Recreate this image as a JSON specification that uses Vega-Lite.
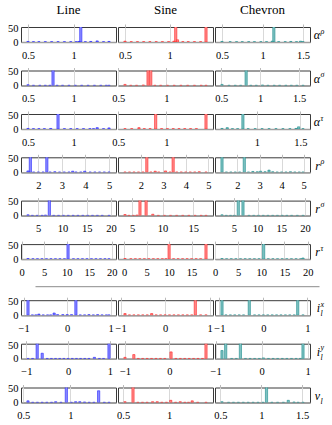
{
"$schema":"https://vega.github.io/schema/vega-lite/v6.json",
"padding":{"left":7,"top":4,"right":1,"bottom":1},
"config":{"view":{"stroke":"#3a3a3a","strokeWidth":1},"font":"Liberation Serif, DejaVu Serif, serif"},
"spacing":5.3,
"datasets":{"d":[
{"p":"ar","m":"C","t":"L","b":"α","s":"ρ"},
{"p":"as","m":"C","t":"L","b":"α","s":"σ"},
{"p":"at","m":"C","t":"L","b":"α","s":"τ"},
{"p":"rr","m":"C","t":"L","b":"r","s":"ρ"},
{"p":"rs","m":"C","t":"L","b":"r","s":"σ"},
{"p":"rt","m":"C","t":"L","b":"r","s":"τ"},
{"p":"ix","m":"C","t":"L","b":"i","s":"x","u":"l"},
{"p":"iy","m":"C","t":"L","b":"i","s":"y","u":"l"},
{"p":"vl","m":"C","t":"L","b":"v","u":"l"},
{"p":"ar","m":"L","v":1.08,"n":60},{"p":"ar","m":"L","v":0.5,"n":2},{"p":"ar","m":"L","v":0.56,"n":1},{"p":"ar","m":"L","v":0.62,"n":1},{"p":"ar","m":"L","v":0.69,"n":1},{"p":"ar","m":"L","v":0.76,"n":1},{"p":"ar","m":"L","v":0.83,"n":1},{"p":"ar","m":"L","v":0.9,"n":1},{"p":"ar","m":"L","v":0.97,"n":1},{"p":"ar","m":"L","v":1.03,"n":1},{"p":"ar","m":"L","v":1.06,"n":2},{"p":"ar","m":"L","v":1.13,"n":1},{"p":"ar","m":"L","v":1.19,"n":2},{"p":"ar","m":"L","v":1.26,"n":4},{"p":"ar","m":"L","v":1.33,"n":1},{"p":"ar","m":"L","v":1.39,"n":2},
{"p":"ar","m":"S","v":1.07,"n":60},{"p":"ar","m":"S","v":1.41,"n":60},{"p":"ar","m":"S","v":0.5,"n":3},{"p":"ar","m":"S","v":0.57,"n":1},{"p":"ar","m":"S","v":0.64,"n":1},{"p":"ar","m":"S","v":0.71,"n":1},{"p":"ar","m":"S","v":0.78,"n":1},{"p":"ar","m":"S","v":0.85,"n":1},{"p":"ar","m":"S","v":0.92,"n":1},{"p":"ar","m":"S","v":0.99,"n":1},{"p":"ar","m":"S","v":1.05,"n":3},{"p":"ar","m":"S","v":1.09,"n":8},{"p":"ar","m":"S","v":1.15,"n":1},{"p":"ar","m":"S","v":1.21,"n":1},{"p":"ar","m":"S","v":1.28,"n":1},{"p":"ar","m":"S","v":1.35,"n":1},
{"p":"ar","m":"C","v":1.14,"n":60},{"p":"ar","m":"C","v":0.5,"n":2},{"p":"ar","m":"C","v":0.6,"n":1},{"p":"ar","m":"C","v":0.68,"n":1},{"p":"ar","m":"C","v":0.75,"n":1},{"p":"ar","m":"C","v":0.83,"n":1},{"p":"ar","m":"C","v":0.9,"n":1},{"p":"ar","m":"C","v":0.98,"n":1},{"p":"ar","m":"C","v":1.05,"n":1},{"p":"ar","m":"C","v":1.12,"n":3},{"p":"ar","m":"C","v":1.2,"n":1},{"p":"ar","m":"C","v":1.28,"n":1},{"p":"ar","m":"C","v":1.35,"n":2},{"p":"ar","m":"C","v":1.42,"n":1},{"p":"ar","m":"C","v":1.47,"n":3},{"p":"ar","m":"C","v":1.5,"n":1},
{"p":"as","m":"L","v":0.775,"n":60},{"p":"as","m":"L","v":0.5,"n":3},{"p":"as","m":"L","v":0.56,"n":1},{"p":"as","m":"L","v":0.63,"n":1},{"p":"as","m":"L","v":0.69,"n":1},{"p":"as","m":"L","v":0.74,"n":1},{"p":"as","m":"L","v":0.82,"n":1},{"p":"as","m":"L","v":0.88,"n":1},{"p":"as","m":"L","v":0.95,"n":1},{"p":"as","m":"L","v":1.02,"n":1},{"p":"as","m":"L","v":1.09,"n":1},{"p":"as","m":"L","v":1.16,"n":1},{"p":"as","m":"L","v":1.23,"n":1},{"p":"as","m":"L","v":1.3,"n":1},{"p":"as","m":"L","v":1.36,"n":1},{"p":"as","m":"L","v":1.39,"n":1},
{"p":"as","m":"S","v":0.809,"n":60},{"p":"as","m":"S","v":0.837,"n":60},{"p":"as","m":"S","v":0.57,"n":4},{"p":"as","m":"S","v":0.63,"n":1},{"p":"as","m":"S","v":0.69,"n":1},{"p":"as","m":"S","v":0.76,"n":2},{"p":"as","m":"S","v":0.88,"n":1},{"p":"as","m":"S","v":0.94,"n":1},{"p":"as","m":"S","v":1.01,"n":1},{"p":"as","m":"S","v":1.08,"n":1},{"p":"as","m":"S","v":1.15,"n":1},{"p":"as","m":"S","v":1.22,"n":1},{"p":"as","m":"S","v":1.29,"n":1},{"p":"as","m":"S","v":1.36,"n":1},{"p":"as","m":"S","v":1.41,"n":1},
{"p":"as","m":"C","v":0.82,"n":60},{"p":"as","m":"C","v":0.51,"n":4},{"p":"as","m":"C","v":0.6,"n":1},{"p":"as","m":"C","v":0.68,"n":1},{"p":"as","m":"C","v":0.75,"n":1},{"p":"as","m":"C","v":0.88,"n":1},{"p":"as","m":"C","v":0.95,"n":1},{"p":"as","m":"C","v":1.03,"n":2},{"p":"as","m":"C","v":1.1,"n":1},{"p":"as","m":"C","v":1.18,"n":1},{"p":"as","m":"C","v":1.25,"n":1},{"p":"as","m":"C","v":1.33,"n":1},{"p":"as","m":"C","v":1.4,"n":1},{"p":"as","m":"C","v":1.47,"n":1},{"p":"as","m":"C","v":1.55,"n":1},
{"p":"at","m":"L","v":0.83,"n":60},{"p":"at","m":"L","v":0.5,"n":2},{"p":"at","m":"L","v":0.56,"n":1},{"p":"at","m":"L","v":0.62,"n":1},{"p":"at","m":"L","v":0.68,"n":1},{"p":"at","m":"L","v":0.75,"n":2},{"p":"at","m":"L","v":0.9,"n":1},{"p":"at","m":"L","v":0.97,"n":1},{"p":"at","m":"L","v":1.04,"n":1},{"p":"at","m":"L","v":1.11,"n":1},{"p":"at","m":"L","v":1.18,"n":1},{"p":"at","m":"L","v":1.22,"n":1},{"p":"at","m":"L","v":1.26,"n":5},{"p":"at","m":"L","v":1.33,"n":1},{"p":"at","m":"L","v":1.39,"n":4},
{"p":"at","m":"S","v":0.888,"n":60},{"p":"at","m":"S","v":1.41,"n":60},{"p":"at","m":"S","v":0.57,"n":1},{"p":"at","m":"S","v":0.64,"n":1},{"p":"at","m":"S","v":0.715,"n":5},{"p":"at","m":"S","v":0.77,"n":1},{"p":"at","m":"S","v":0.83,"n":1},{"p":"at","m":"S","v":0.95,"n":1},{"p":"at","m":"S","v":1.01,"n":1},{"p":"at","m":"S","v":1.07,"n":1},{"p":"at","m":"S","v":1.13,"n":1},{"p":"at","m":"S","v":1.19,"n":1},{"p":"at","m":"S","v":1.25,"n":1},{"p":"at","m":"S","v":1.31,"n":1},
{"p":"at","m":"C","v":0.84,"n":60},{"p":"at","m":"C","v":0.6,"n":2},{"p":"at","m":"C","v":0.66,"n":5},{"p":"at","m":"C","v":0.72,"n":1},{"p":"at","m":"C","v":0.78,"n":1},{"p":"at","m":"C","v":0.9,"n":1},{"p":"at","m":"C","v":0.98,"n":1},{"p":"at","m":"C","v":1.06,"n":1},{"p":"at","m":"C","v":1.14,"n":1},{"p":"at","m":"C","v":1.22,"n":1},{"p":"at","m":"C","v":1.3,"n":1},{"p":"at","m":"C","v":1.38,"n":1},{"p":"at","m":"C","v":1.45,"n":2},{"p":"at","m":"C","v":1.48,"n":8},{"p":"at","m":"C","v":1.53,"n":1},
{"p":"rr","m":"L","v":1.66,"n":60},{"p":"rr","m":"L","v":2.36,"n":60},{"p":"rr","m":"L","v":1.56,"n":5},{"p":"rr","m":"L","v":1.8,"n":1},{"p":"rr","m":"L","v":2.0,"n":1},{"p":"rr","m":"L","v":2.2,"n":1},{"p":"rr","m":"L","v":2.5,"n":1},{"p":"rr","m":"L","v":2.7,"n":2},{"p":"rr","m":"L","v":2.9,"n":1},{"p":"rr","m":"L","v":3.1,"n":1},{"p":"rr","m":"L","v":3.3,"n":1},{"p":"rr","m":"L","v":3.46,"n":4},{"p":"rr","m":"L","v":3.6,"n":1},{"p":"rr","m":"L","v":3.8,"n":1},{"p":"rr","m":"L","v":3.97,"n":4},{"p":"rr","m":"L","v":4.2,"n":1},{"p":"rr","m":"L","v":4.4,"n":1},{"p":"rr","m":"L","v":4.6,"n":1},{"p":"rr","m":"L","v":4.8,"n":1},{"p":"rr","m":"L","v":5.0,"n":1},
{"p":"rr","m":"S","v":2.27,"n":60},{"p":"rr","m":"S","v":3.44,"n":60},{"p":"rr","m":"S","v":1.3,"n":1},{"p":"rr","m":"S","v":1.5,"n":1},{"p":"rr","m":"S","v":1.7,"n":1},{"p":"rr","m":"S","v":1.9,"n":1},{"p":"rr","m":"S","v":2.1,"n":1},{"p":"rr","m":"S","v":2.45,"n":1},{"p":"rr","m":"S","v":2.64,"n":4},{"p":"rr","m":"S","v":2.8,"n":1},{"p":"rr","m":"S","v":3.1,"n":5},{"p":"rr","m":"S","v":3.3,"n":1},{"p":"rr","m":"S","v":3.6,"n":1},{"p":"rr","m":"S","v":3.8,"n":1},{"p":"rr","m":"S","v":4.0,"n":1},{"p":"rr","m":"S","v":4.2,"n":1},{"p":"rr","m":"S","v":4.4,"n":1},{"p":"rr","m":"S","v":4.6,"n":2},{"p":"rr","m":"S","v":4.9,"n":1},
{"p":"rr","m":"C","v":1.3,"n":60},{"p":"rr","m":"C","v":2.31,"n":60},{"p":"rr","m":"C","v":1.5,"n":1},{"p":"rr","m":"C","v":1.7,"n":1},{"p":"rr","m":"C","v":1.9,"n":1},{"p":"rr","m":"C","v":2.1,"n":1},{"p":"rr","m":"C","v":2.5,"n":1},{"p":"rr","m":"C","v":2.7,"n":3},{"p":"rr","m":"C","v":2.9,"n":2},{"p":"rr","m":"C","v":3.05,"n":4},{"p":"rr","m":"C","v":3.25,"n":2},{"p":"rr","m":"C","v":3.43,"n":8},{"p":"rr","m":"C","v":3.6,"n":2},{"p":"rr","m":"C","v":3.8,"n":1},{"p":"rr","m":"C","v":4.0,"n":1},{"p":"rr","m":"C","v":4.2,"n":1},{"p":"rr","m":"C","v":4.4,"n":2},{"p":"rr","m":"C","v":4.6,"n":1},{"p":"rr","m":"C","v":4.8,"n":1},{"p":"rr","m":"C","v":4.97,"n":1},
{"p":"rs","m":"L","v":7.3,"n":60},{"p":"rs","m":"L","v":2.9,"n":3},{"p":"rs","m":"L","v":3.8,"n":1},{"p":"rs","m":"L","v":4.8,"n":1},{"p":"rs","m":"L","v":5.8,"n":1},{"p":"rs","m":"L","v":6.5,"n":2},{"p":"rs","m":"L","v":8.2,"n":1},{"p":"rs","m":"L","v":9.2,"n":1},{"p":"rs","m":"L","v":10.2,"n":1},{"p":"rs","m":"L","v":11.2,"n":1},{"p":"rs","m":"L","v":12.2,"n":1},{"p":"rs","m":"L","v":13.2,"n":1},{"p":"rs","m":"L","v":14.2,"n":1},{"p":"rs","m":"L","v":15.2,"n":1},{"p":"rs","m":"L","v":16.2,"n":1},{"p":"rs","m":"L","v":17.2,"n":1},{"p":"rs","m":"L","v":18.2,"n":1},{"p":"rs","m":"L","v":19.6,"n":1},
{"p":"rs","m":"S","v":6.3,"n":60},{"p":"rs","m":"S","v":7.3,"n":60},{"p":"rs","m":"S","v":3.85,"n":4},{"p":"rs","m":"S","v":4.5,"n":1},{"p":"rs","m":"S","v":5.2,"n":1},{"p":"rs","m":"S","v":5.8,"n":2},{"p":"rs","m":"S","v":8.4,"n":5},{"p":"rs","m":"S","v":9.3,"n":1},{"p":"rs","m":"S","v":10.3,"n":1},{"p":"rs","m":"S","v":11.3,"n":1},{"p":"rs","m":"S","v":12.3,"n":1},{"p":"rs","m":"S","v":13.3,"n":1},{"p":"rs","m":"S","v":14.3,"n":1},{"p":"rs","m":"S","v":15.3,"n":1},{"p":"rs","m":"S","v":16.3,"n":1},{"p":"rs","m":"S","v":17.1,"n":1},
{"p":"rs","m":"C","v":5.94,"n":60},{"p":"rs","m":"C","v":6.93,"n":60},{"p":"rs","m":"C","v":2.5,"n":3},{"p":"rs","m":"C","v":3.4,"n":1},{"p":"rs","m":"C","v":4.3,"n":1},{"p":"rs","m":"C","v":5.1,"n":1},{"p":"rs","m":"C","v":8.2,"n":1},{"p":"rs","m":"C","v":9.2,"n":1},{"p":"rs","m":"C","v":10.2,"n":1},{"p":"rs","m":"C","v":11.2,"n":1},{"p":"rs","m":"C","v":12.2,"n":1},{"p":"rs","m":"C","v":13.2,"n":1},{"p":"rs","m":"C","v":14.2,"n":1},{"p":"rs","m":"C","v":15.2,"n":1},{"p":"rs","m":"C","v":16.2,"n":1},{"p":"rs","m":"C","v":17.2,"n":1},{"p":"rs","m":"C","v":18.4,"n":1},{"p":"rs","m":"C","v":19.6,"n":1},
{"p":"rt","m":"L","v":10.3,"n":60},{"p":"rt","m":"L","v":1.4,"n":2},{"p":"rt","m":"L","v":2.5,"n":1},{"p":"rt","m":"L","v":3.5,"n":1},{"p":"rt","m":"L","v":4.5,"n":1},{"p":"rt","m":"L","v":5.5,"n":1},{"p":"rt","m":"L","v":6.5,"n":1},{"p":"rt","m":"L","v":7.5,"n":1},{"p":"rt","m":"L","v":8.5,"n":1},{"p":"rt","m":"L","v":9.5,"n":1},{"p":"rt","m":"L","v":11.5,"n":1},{"p":"rt","m":"L","v":12.5,"n":1},{"p":"rt","m":"L","v":13.5,"n":1},{"p":"rt","m":"L","v":14.5,"n":1},{"p":"rt","m":"L","v":15.5,"n":1},{"p":"rt","m":"L","v":16.5,"n":1},{"p":"rt","m":"L","v":17.5,"n":1},{"p":"rt","m":"L","v":18.5,"n":1},{"p":"rt","m":"L","v":19.4,"n":1},
{"p":"rt","m":"S","v":10.0,"n":60},{"p":"rt","m":"S","v":18.2,"n":60},{"p":"rt","m":"S","v":0.2,"n":2},{"p":"rt","m":"S","v":1.5,"n":1},{"p":"rt","m":"S","v":2.5,"n":1},{"p":"rt","m":"S","v":3.5,"n":1},{"p":"rt","m":"S","v":4.5,"n":1},{"p":"rt","m":"S","v":5.5,"n":1},{"p":"rt","m":"S","v":6.5,"n":1},{"p":"rt","m":"S","v":7.5,"n":1},{"p":"rt","m":"S","v":8.5,"n":1},{"p":"rt","m":"S","v":9.3,"n":1},{"p":"rt","m":"S","v":11.0,"n":1},{"p":"rt","m":"S","v":12.0,"n":1},{"p":"rt","m":"S","v":13.0,"n":1},{"p":"rt","m":"S","v":14.0,"n":1},{"p":"rt","m":"S","v":15.0,"n":1},{"p":"rt","m":"S","v":16.0,"n":1},{"p":"rt","m":"S","v":17.0,"n":1},
{"p":"rt","m":"C","v":10.5,"n":60},{"p":"rt","m":"C","v":1.5,"n":2},{"p":"rt","m":"C","v":2.5,"n":1},{"p":"rt","m":"C","v":3.5,"n":1},{"p":"rt","m":"C","v":4.5,"n":1},{"p":"rt","m":"C","v":5.5,"n":1},{"p":"rt","m":"C","v":6.5,"n":1},{"p":"rt","m":"C","v":7.5,"n":1},{"p":"rt","m":"C","v":8.5,"n":1},{"p":"rt","m":"C","v":9.5,"n":1},{"p":"rt","m":"C","v":11.5,"n":1},{"p":"rt","m":"C","v":12.5,"n":1},{"p":"rt","m":"C","v":13.5,"n":1},{"p":"rt","m":"C","v":14.5,"n":1},{"p":"rt","m":"C","v":15.5,"n":1},{"p":"rt","m":"C","v":16.5,"n":1},{"p":"rt","m":"C","v":17.5,"n":1},{"p":"rt","m":"C","v":18.5,"n":1},{"p":"rt","m":"C","v":19.0,"n":4},
{"p":"ix","m":"L","v":-0.9,"n":60},{"p":"ix","m":"L","v":0.2,"n":60},{"p":"ix","m":"L","v":-0.8,"n":1},{"p":"ix","m":"L","v":-0.72,"n":1},{"p":"ix","m":"L","v":-0.65,"n":4},{"p":"ix","m":"L","v":-0.55,"n":1},{"p":"ix","m":"L","v":-0.45,"n":1},{"p":"ix","m":"L","v":-0.38,"n":1},{"p":"ix","m":"L","v":-0.3,"n":8},{"p":"ix","m":"L","v":-0.22,"n":2},{"p":"ix","m":"L","v":-0.1,"n":2},{"p":"ix","m":"L","v":0.0,"n":2},{"p":"ix","m":"L","v":0.1,"n":2},{"p":"ix","m":"L","v":0.3,"n":1},{"p":"ix","m":"L","v":0.4,"n":1},{"p":"ix","m":"L","v":0.5,"n":2},{"p":"ix","m":"L","v":0.6,"n":1},{"p":"ix","m":"L","v":0.7,"n":2},{"p":"ix","m":"L","v":0.8,"n":1},{"p":"ix","m":"L","v":0.9,"n":1},{"p":"ix","m":"L","v":0.96,"n":1},
{"p":"ix","m":"S","v":0.68,"n":60},{"p":"ix","m":"S","v":-0.9,"n":6},{"p":"ix","m":"S","v":-0.8,"n":1},{"p":"ix","m":"S","v":-0.7,"n":1},{"p":"ix","m":"S","v":-0.6,"n":1},{"p":"ix","m":"S","v":-0.5,"n":1},{"p":"ix","m":"S","v":-0.4,"n":1},{"p":"ix","m":"S","v":-0.3,"n":6},{"p":"ix","m":"S","v":-0.2,"n":1},{"p":"ix","m":"S","v":-0.1,"n":1},{"p":"ix","m":"S","v":0.0,"n":1},{"p":"ix","m":"S","v":0.1,"n":1},{"p":"ix","m":"S","v":0.2,"n":1},{"p":"ix","m":"S","v":0.3,"n":1},{"p":"ix","m":"S","v":0.4,"n":1},{"p":"ix","m":"S","v":0.5,"n":1},{"p":"ix","m":"S","v":0.6,"n":1},{"p":"ix","m":"S","v":0.8,"n":1},{"p":"ix","m":"S","v":0.92,"n":1},
{"p":"ix","m":"C","v":-0.94,"n":60},{"p":"ix","m":"C","v":-0.32,"n":60},{"p":"ix","m":"C","v":0.78,"n":60},{"p":"ix","m":"C","v":-0.85,"n":1},{"p":"ix","m":"C","v":-0.75,"n":1},{"p":"ix","m":"C","v":-0.65,"n":1},{"p":"ix","m":"C","v":-0.55,"n":1},{"p":"ix","m":"C","v":-0.45,"n":1},{"p":"ix","m":"C","v":-0.2,"n":1},{"p":"ix","m":"C","v":-0.1,"n":1},{"p":"ix","m":"C","v":0.0,"n":1},{"p":"ix","m":"C","v":0.1,"n":1},{"p":"ix","m":"C","v":0.2,"n":1},{"p":"ix","m":"C","v":0.3,"n":1},{"p":"ix","m":"C","v":0.4,"n":1},{"p":"ix","m":"C","v":0.5,"n":1},{"p":"ix","m":"C","v":0.6,"n":1},{"p":"ix","m":"C","v":0.7,"n":1},{"p":"ix","m":"C","v":0.9,"n":1},
{"p":"iy","m":"L","v":-0.74,"n":60},{"p":"iy","m":"L","v":0.98,"n":60},{"p":"iy","m":"L","v":-0.96,"n":1},{"p":"iy","m":"L","v":-0.85,"n":1},{"p":"iy","m":"L","v":-0.62,"n":20},{"p":"iy","m":"L","v":-0.5,"n":1},{"p":"iy","m":"L","v":-0.4,"n":1},{"p":"iy","m":"L","v":-0.3,"n":1},{"p":"iy","m":"L","v":-0.2,"n":1},{"p":"iy","m":"L","v":-0.1,"n":1},{"p":"iy","m":"L","v":0.0,"n":1},{"p":"iy","m":"L","v":0.1,"n":1},{"p":"iy","m":"L","v":0.2,"n":1},{"p":"iy","m":"L","v":0.3,"n":1},{"p":"iy","m":"L","v":0.4,"n":1},{"p":"iy","m":"L","v":0.5,"n":1},{"p":"iy","m":"L","v":0.63,"n":5},{"p":"iy","m":"L","v":0.75,"n":1},{"p":"iy","m":"L","v":0.85,"n":1},
{"p":"iy","m":"S","v":0.83,"n":60},{"p":"iy","m":"S","v":-1.0,"n":5},{"p":"iy","m":"S","v":-0.8,"n":15},{"p":"iy","m":"S","v":-0.7,"n":1},{"p":"iy","m":"S","v":-0.6,"n":1},{"p":"iy","m":"S","v":-0.5,"n":1},{"p":"iy","m":"S","v":-0.4,"n":1},{"p":"iy","m":"S","v":-0.3,"n":1},{"p":"iy","m":"S","v":-0.2,"n":1},{"p":"iy","m":"S","v":-0.1,"n":1},{"p":"iy","m":"S","v":0.04,"n":25},{"p":"iy","m":"S","v":0.15,"n":1},{"p":"iy","m":"S","v":0.25,"n":1},{"p":"iy","m":"S","v":0.35,"n":1},{"p":"iy","m":"S","v":0.45,"n":1},{"p":"iy","m":"S","v":0.55,"n":1},{"p":"iy","m":"S","v":0.65,"n":1},{"p":"iy","m":"S","v":0.75,"n":1},
{"p":"iy","m":"C","v":-0.78,"n":60},{"p":"iy","m":"C","v":-0.46,"n":60},{"p":"iy","m":"C","v":0.9,"n":60},{"p":"iy","m":"C","v":-0.86,"n":30},{"p":"iy","m":"C","v":-0.65,"n":1},{"p":"iy","m":"C","v":-0.55,"n":1},{"p":"iy","m":"C","v":-0.35,"n":1},{"p":"iy","m":"C","v":-0.25,"n":1},{"p":"iy","m":"C","v":-0.15,"n":1},{"p":"iy","m":"C","v":-0.05,"n":1},{"p":"iy","m":"C","v":0.04,"n":3},{"p":"iy","m":"C","v":0.15,"n":1},{"p":"iy","m":"C","v":0.25,"n":1},{"p":"iy","m":"C","v":0.35,"n":1},{"p":"iy","m":"C","v":0.45,"n":1},{"p":"iy","m":"C","v":0.55,"n":1},{"p":"iy","m":"C","v":0.65,"n":1},{"p":"iy","m":"C","v":0.75,"n":1},{"p":"iy","m":"C","v":0.84,"n":1},
{"p":"vl","m":"L","v":0.957,"n":60},{"p":"vl","m":"L","v":1.3,"n":43},{"p":"vl","m":"L","v":0.55,"n":6},{"p":"vl","m":"L","v":0.6,"n":1},{"p":"vl","m":"L","v":0.65,"n":1},{"p":"vl","m":"L","v":0.7,"n":1},{"p":"vl","m":"L","v":0.75,"n":1},{"p":"vl","m":"L","v":0.8,"n":1},{"p":"vl","m":"L","v":0.844,"n":3},{"p":"vl","m":"L","v":0.9,"n":1},{"p":"vl","m":"L","v":1.01,"n":1},{"p":"vl","m":"L","v":1.056,"n":3},{"p":"vl","m":"L","v":1.1,"n":3},{"p":"vl","m":"L","v":1.15,"n":2},{"p":"vl","m":"L","v":1.2,"n":1},{"p":"vl","m":"L","v":1.25,"n":1},{"p":"vl","m":"L","v":1.36,"n":1},{"p":"vl","m":"L","v":1.41,"n":1},
{"p":"vl","m":"S","v":0.607,"n":60},{"p":"vl","m":"S","v":0.52,"n":3},{"p":"vl","m":"S","v":0.66,"n":1},{"p":"vl","m":"S","v":0.71,"n":1},{"p":"vl","m":"S","v":0.76,"n":1},{"p":"vl","m":"S","v":0.82,"n":3},{"p":"vl","m":"S","v":0.87,"n":3},{"p":"vl","m":"S","v":0.92,"n":1},{"p":"vl","m":"S","v":0.97,"n":1},{"p":"vl","m":"S","v":1.017,"n":8},{"p":"vl","m":"S","v":1.07,"n":1},{"p":"vl","m":"S","v":1.12,"n":3},{"p":"vl","m":"S","v":1.17,"n":1},{"p":"vl","m":"S","v":1.21,"n":1},{"p":"vl","m":"S","v":1.25,"n":6},{"p":"vl","m":"S","v":1.31,"n":1},{"p":"vl","m":"S","v":1.4,"n":1},
{"p":"vl","m":"C","v":1.064,"n":60},{"p":"vl","m":"C","v":0.52,"n":3},{"p":"vl","m":"C","v":0.6,"n":1},{"p":"vl","m":"C","v":0.66,"n":1},{"p":"vl","m":"C","v":0.72,"n":1},{"p":"vl","m":"C","v":0.78,"n":1},{"p":"vl","m":"C","v":0.84,"n":1},{"p":"vl","m":"C","v":0.9,"n":1},{"p":"vl","m":"C","v":0.96,"n":1},{"p":"vl","m":"C","v":1.02,"n":1},{"p":"vl","m":"C","v":1.13,"n":1},{"p":"vl","m":"C","v":1.2,"n":1},{"p":"vl","m":"C","v":1.27,"n":1},{"p":"vl","m":"C","v":1.33,"n":8},{"p":"vl","m":"C","v":1.4,"n":2},{"p":"vl","m":"C","v":1.45,"n":1},{"p":"vl","m":"C","v":1.51,"n":1}
]},
"vconcat":[
{"data":{"name":"d"},
 "transform":[{"filter":{"field":"p","oneOf":["ar","as","at"]}}],
 "facet":{
  "row":{"field":"p","type":"nominal","sort":["ar","as","at"],"header":{"title":null,"labels":false}},
  "column":{"field":"m","type":"nominal","sort":["L","S","C"],"header":{"title":null,"labelExpr":"datum.value=='L'?'Line':datum.value=='S'?'Sine':'Chevron'","labelFont":"Liberation Serif, DejaVu Serif, serif","labelFontSize":13,"labelPadding":10,"labelColor":"#000"}}},
 "spacing":{"row":28.5,"column":2},"bounds":"flush",
 "resolve":{"scale":{"x":"independent"}},
 "spec":{"width":95,"height":15,"layer":[
  {"transform":[{"filter":"datum.t !== 'L'"}],
   "mark":{"type":"bar","orient":"vertical","size":2.2,"clip":true,"strokeWidth":0.6},
   "encoding":{
    "x":{"field":"v","type":"quantitative","scale":{"zero":false,"nice":false,"padding":7},"axis":{"orient":"bottom","values":[0.5,1,1.5],"format":"~g","tickCount":10,"title":null,"ticks":false,"domain":false,"grid":true,"gridColor":"#d9d9d9","labelPadding":8,"labelFont":"Liberation Serif, DejaVu Serif, serif","labelFontSize":10.5,"labelColor":"#000","labelFlush":false,"labelOverlap":false}},
    "y":{"field":"n","type":"quantitative","scale":{"domain":[0,52]},"axis":{"title":null,"values":[0,50],"ticks":false,"domain":false,"labelPadding":3,"labelFont":"Liberation Serif, DejaVu Serif, serif","labelFontSize":10.5,"labelColor":"#000","grid":true,"gridColor":{"condition":{"test":"datum.value===0","value":"#a0a0a0"},"value":"transparent"},"gridWidth":1.5}},
    "fill":{"field":"m","type":"nominal","scale":{"domain":["L","S","C"],"range":["#8c8cff","#ff8c8c","#7fc2c2"]},"legend":null},
    "stroke":{"field":"m","type":"nominal","scale":{"domain":["L","S","C"],"range":["#2020ff","#ff2020","#1a8c8c"]},"legend":null}}},
  {"transform":[{"filter":"datum.t !== 'L'"}],
   "mark":{"type":"point","opacity":0},
   "encoding":{"x":{"field":"v","type":"quantitative","axis":{"orient":"top","values":[0.5,1,1.5],"tickCount":10,"title":null,"labels":false,"domain":false,"grid":false,"ticks":true,"tickSize":3,"tickColor":"#bbbbbb"}}}},
  {"transform":[{"filter":"datum.t === 'L'"}],
   "mark":{"type":"text","align":"right","baseline":"alphabetic","font":"Liberation Serif, DejaVu Serif, serif","fontStyle":"italic","fontSize":12,"dx":10},
   "encoding":{"x":{"value":"width"},"y":{"datum":10},"text":{"field":"b"}}},
  {"transform":[{"filter":"datum.t === 'L' && datum.s"}],
   "mark":{"type":"text","align":"left","baseline":"alphabetic","font":"Liberation Serif, DejaVu Serif, serif","fontStyle":"italic","fontSize":8,"dx":10.5},
   "encoding":{"x":{"value":"width"},"y":{"datum":31},"text":{"field":"s"}}}
 ]}},
{"data":{"name":"d"},
 "transform":[{"filter":{"field":"p","oneOf":["rr"]}}],
 "facet":{
  "row":{"field":"p","type":"nominal","sort":["rr"],"header":{"title":null,"labels":false}},
  "column":{"field":"m","type":"nominal","sort":["L","S","C"],"header":{"title":null,"labels":false}}},
 "spacing":{"row":28.5,"column":2},"bounds":"flush",
 "resolve":{"scale":{"x":"independent"}},
 "spec":{"width":95,"height":15,"layer":[
  {"transform":[{"filter":"datum.t !== 'L'"}],
   "mark":{"type":"bar","orient":"vertical","size":2.2,"clip":true,"strokeWidth":0.6},
   "encoding":{
    "x":{"field":"v","type":"quantitative","scale":{"zero":false,"nice":false,"padding":7},"axis":{"orient":"bottom","values":[2,3,4,5],"format":"~g","tickCount":10,"title":null,"ticks":false,"domain":false,"grid":true,"gridColor":"#d9d9d9","labelPadding":8,"labelFont":"Liberation Serif, DejaVu Serif, serif","labelFontSize":10.5,"labelColor":"#000","labelFlush":false,"labelOverlap":false}},
    "y":{"field":"n","type":"quantitative","scale":{"domain":[0,52]},"axis":{"title":null,"values":[0,50],"ticks":false,"domain":false,"labelPadding":3,"labelFont":"Liberation Serif, DejaVu Serif, serif","labelFontSize":10.5,"labelColor":"#000","grid":true,"gridColor":{"condition":{"test":"datum.value===0","value":"#a0a0a0"},"value":"transparent"},"gridWidth":1.5}},
    "fill":{"field":"m","type":"nominal","scale":{"domain":["L","S","C"],"range":["#8c8cff","#ff8c8c","#7fc2c2"]},"legend":null},
    "stroke":{"field":"m","type":"nominal","scale":{"domain":["L","S","C"],"range":["#2020ff","#ff2020","#1a8c8c"]},"legend":null}}},
  {"transform":[{"filter":"datum.t !== 'L'"}],
   "mark":{"type":"point","opacity":0},
   "encoding":{"x":{"field":"v","type":"quantitative","axis":{"orient":"top","values":[2,3,4,5],"tickCount":10,"title":null,"labels":false,"domain":false,"grid":false,"ticks":true,"tickSize":3,"tickColor":"#bbbbbb"}}}},
  {"transform":[{"filter":"datum.t === 'L'"}],
   "mark":{"type":"text","align":"right","baseline":"alphabetic","font":"Liberation Serif, DejaVu Serif, serif","fontStyle":"italic","fontSize":12,"dx":10},
   "encoding":{"x":{"value":"width"},"y":{"datum":10},"text":{"field":"b"}}},
  {"transform":[{"filter":"datum.t === 'L' && datum.s"}],
   "mark":{"type":"text","align":"left","baseline":"alphabetic","font":"Liberation Serif, DejaVu Serif, serif","fontStyle":"italic","fontSize":8,"dx":10.5},
   "encoding":{"x":{"value":"width"},"y":{"datum":31},"text":{"field":"s"}}}
 ]}},
{"data":{"name":"d"},
 "transform":[{"filter":{"field":"p","oneOf":["rs","rt"]}}],
 "facet":{
  "row":{"field":"p","type":"nominal","sort":["rs","rt"],"header":{"title":null,"labels":false}},
  "column":{"field":"m","type":"nominal","sort":["L","S","C"],"header":{"title":null,"labels":false}}},
 "spacing":{"row":28.5,"column":2},"bounds":"flush",
 "resolve":{"scale":{"x":"independent"}},
 "spec":{"width":95,"height":15,"layer":[
  {"transform":[{"filter":"datum.t !== 'L'"}],
   "mark":{"type":"bar","orient":"vertical","size":2.2,"clip":true,"strokeWidth":0.6},
   "encoding":{
    "x":{"field":"v","type":"quantitative","scale":{"zero":false,"nice":false,"padding":7},"axis":{"orient":"bottom","values":[0,5,10,15,20],"format":"~g","tickCount":10,"title":null,"ticks":false,"domain":false,"grid":true,"gridColor":"#d9d9d9","labelPadding":8,"labelFont":"Liberation Serif, DejaVu Serif, serif","labelFontSize":10.5,"labelColor":"#000","labelFlush":false,"labelOverlap":false}},
    "y":{"field":"n","type":"quantitative","scale":{"domain":[0,52]},"axis":{"title":null,"values":[0,50],"ticks":false,"domain":false,"labelPadding":3,"labelFont":"Liberation Serif, DejaVu Serif, serif","labelFontSize":10.5,"labelColor":"#000","grid":true,"gridColor":{"condition":{"test":"datum.value===0","value":"#a0a0a0"},"value":"transparent"},"gridWidth":1.5}},
    "fill":{"field":"m","type":"nominal","scale":{"domain":["L","S","C"],"range":["#8c8cff","#ff8c8c","#7fc2c2"]},"legend":null},
    "stroke":{"field":"m","type":"nominal","scale":{"domain":["L","S","C"],"range":["#2020ff","#ff2020","#1a8c8c"]},"legend":null}}},
  {"transform":[{"filter":"datum.t !== 'L'"}],
   "mark":{"type":"point","opacity":0},
   "encoding":{"x":{"field":"v","type":"quantitative","axis":{"orient":"top","values":[0,5,10,15,20],"tickCount":10,"title":null,"labels":false,"domain":false,"grid":false,"ticks":true,"tickSize":3,"tickColor":"#bbbbbb"}}}},
  {"transform":[{"filter":"datum.t === 'L'"}],
   "mark":{"type":"text","align":"right","baseline":"alphabetic","font":"Liberation Serif, DejaVu Serif, serif","fontStyle":"italic","fontSize":12,"dx":10},
   "encoding":{"x":{"value":"width"},"y":{"datum":10},"text":{"field":"b"}}},
  {"transform":[{"filter":"datum.t === 'L' && datum.s"}],
   "mark":{"type":"text","align":"left","baseline":"alphabetic","font":"Liberation Serif, DejaVu Serif, serif","fontStyle":"italic","fontSize":8,"dx":10.5},
   "encoding":{"x":{"value":"width"},"y":{"datum":31},"text":{"field":"s"}}}
 ]}},
{"width":300,"height":7,"view":{"stroke":null},"data":{"values":[{}]},
 "mark":{"type":"rule","color":"#8c8c8c","strokeWidth":1},
 "encoding":{"x":{"datum":14.5,"type":"quantitative","scale":{"domain":[0,300]},"axis":null},"x2":{"datum":298.5},"y":{"datum":0.6,"type":"quantitative","scale":{"domain":[0,1]},"axis":null}}},
{"data":{"name":"d"},
 "transform":[{"filter":{"field":"p","oneOf":["ix","iy"]}}],
 "facet":{
  "row":{"field":"p","type":"nominal","sort":["ix","iy"],"header":{"title":null,"labels":false}},
  "column":{"field":"m","type":"nominal","sort":["L","S","C"],"header":{"title":null,"labels":false}}},
 "spacing":{"row":28.5,"column":2},"bounds":"flush",
 "resolve":{"scale":{"x":"independent"}},
 "spec":{"width":95,"height":15,"layer":[
  {"transform":[{"filter":"datum.t !== 'L'"}],
   "mark":{"type":"bar","orient":"vertical","size":2.2,"clip":true,"strokeWidth":0.6},
   "encoding":{
    "x":{"field":"v","type":"quantitative","scale":{"zero":false,"nice":false,"padding":7},"axis":{"orient":"bottom","values":[-1,0,1],"format":"~g","tickCount":10,"title":null,"ticks":false,"domain":false,"grid":true,"gridColor":"#d9d9d9","labelPadding":8,"labelFont":"Liberation Serif, DejaVu Serif, serif","labelFontSize":10.5,"labelColor":"#000","labelFlush":false,"labelOverlap":false}},
    "y":{"field":"n","type":"quantitative","scale":{"domain":[0,52]},"axis":{"title":null,"values":[0,50],"ticks":false,"domain":false,"labelPadding":3,"labelFont":"Liberation Serif, DejaVu Serif, serif","labelFontSize":10.5,"labelColor":"#000","grid":true,"gridColor":{"condition":{"test":"datum.value===0","value":"#a0a0a0"},"value":"transparent"},"gridWidth":1.5}},
    "fill":{"field":"m","type":"nominal","scale":{"domain":["L","S","C"],"range":["#8c8cff","#ff8c8c","#7fc2c2"]},"legend":null},
    "stroke":{"field":"m","type":"nominal","scale":{"domain":["L","S","C"],"range":["#2020ff","#ff2020","#1a8c8c"]},"legend":null}}},
  {"transform":[{"filter":"datum.t !== 'L'"}],
   "mark":{"type":"point","opacity":0},
   "encoding":{"x":{"field":"v","type":"quantitative","axis":{"orient":"top","values":[-1,0,1],"tickCount":10,"title":null,"labels":false,"domain":false,"grid":false,"ticks":true,"tickSize":3,"tickColor":"#bbbbbb"}}}},
  {"transform":[{"filter":"datum.t === 'L'"}],
   "mark":{"type":"text","align":"right","baseline":"alphabetic","font":"Liberation Serif, DejaVu Serif, serif","fontStyle":"italic","fontSize":12,"dx":10},
   "encoding":{"x":{"value":"width"},"y":{"datum":10},"text":{"field":"b"}}},
  {"transform":[{"filter":"datum.t === 'L' && datum.s"}],
   "mark":{"type":"text","align":"left","baseline":"alphabetic","font":"Liberation Serif, DejaVu Serif, serif","fontStyle":"italic","fontSize":8,"dx":10.5},
   "encoding":{"x":{"value":"width"},"y":{"datum":31},"text":{"field":"s"}}},
  {"transform":[{"filter":"datum.t === 'L' && datum.u"}],
   "mark":{"type":"text","align":"left","baseline":"alphabetic","font":"Liberation Serif, DejaVu Serif, serif","fontStyle":"italic","fontSize":8,"dx":10.5},
   "encoding":{"x":{"value":"width"},"y":{"datum":-4},"text":{"field":"u"}}}
 ]}},
{"data":{"name":"d"},
 "transform":[{"filter":{"field":"p","oneOf":["vl"]}}],
 "facet":{
  "row":{"field":"p","type":"nominal","sort":["vl"],"header":{"title":null,"labels":false}},
  "column":{"field":"m","type":"nominal","sort":["L","S","C"],"header":{"title":null,"labels":false}}},
 "spacing":{"row":28.5,"column":2},"bounds":"flush",
 "resolve":{"scale":{"x":"independent"}},
 "spec":{"width":95,"height":15,"layer":[
  {"transform":[{"filter":"datum.t !== 'L'"}],
   "mark":{"type":"bar","orient":"vertical","size":2.2,"clip":true,"strokeWidth":0.6},
   "encoding":{
    "x":{"field":"v","type":"quantitative","scale":{"zero":false,"nice":false,"padding":7},"axis":{"orient":"bottom","values":[0.5,1,1.5],"format":"~g","tickCount":10,"title":null,"ticks":false,"domain":false,"grid":true,"gridColor":"#d9d9d9","labelPadding":8,"labelFont":"Liberation Serif, DejaVu Serif, serif","labelFontSize":10.5,"labelColor":"#000","labelFlush":false,"labelOverlap":false}},
    "y":{"field":"n","type":"quantitative","scale":{"domain":[0,52]},"axis":{"title":null,"values":[0,50],"ticks":false,"domain":false,"labelPadding":3,"labelFont":"Liberation Serif, DejaVu Serif, serif","labelFontSize":10.5,"labelColor":"#000","grid":true,"gridColor":{"condition":{"test":"datum.value===0","value":"#a0a0a0"},"value":"transparent"},"gridWidth":1.5}},
    "fill":{"field":"m","type":"nominal","scale":{"domain":["L","S","C"],"range":["#8c8cff","#ff8c8c","#7fc2c2"]},"legend":null},
    "stroke":{"field":"m","type":"nominal","scale":{"domain":["L","S","C"],"range":["#2020ff","#ff2020","#1a8c8c"]},"legend":null}}},
  {"transform":[{"filter":"datum.t !== 'L'"}],
   "mark":{"type":"point","opacity":0},
   "encoding":{"x":{"field":"v","type":"quantitative","axis":{"orient":"top","values":[0.5,1,1.5],"tickCount":10,"title":null,"labels":false,"domain":false,"grid":false,"ticks":true,"tickSize":3,"tickColor":"#bbbbbb"}}}},
  {"transform":[{"filter":"datum.t === 'L'"}],
   "mark":{"type":"text","align":"right","baseline":"alphabetic","font":"Liberation Serif, DejaVu Serif, serif","fontStyle":"italic","fontSize":12,"dx":10},
   "encoding":{"x":{"value":"width"},"y":{"datum":10},"text":{"field":"b"}}},
  {"transform":[{"filter":"datum.t === 'L' && datum.u"}],
   "mark":{"type":"text","align":"left","baseline":"alphabetic","font":"Liberation Serif, DejaVu Serif, serif","fontStyle":"italic","fontSize":8,"dx":10.5},
   "encoding":{"x":{"value":"width"},"y":{"datum":-4},"text":{"field":"u"}}}
 ]}}
]
}
